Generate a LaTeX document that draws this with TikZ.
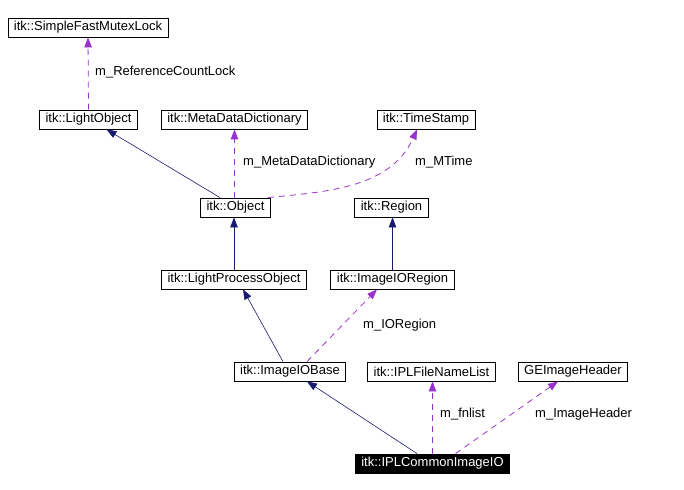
\documentclass[tikz,border=0pt]{standalone}
\usepackage{fontspec}
\setmainfont{Liberation Sans}
\usetikzlibrary{arrows.meta}
\definecolor{inhblue}{HTML}{191970}
\definecolor{usepurple}{HTML}{9A32CD}

\begin{document}
\begin{tikzpicture}[x=1pt, y=-1pt,
        cls/.style={draw=black, line width=0.8pt, fill=white, inner xsep=6pt, inner ysep=0pt,
                    minimum height=19pt, font=\fontsize{13}{15}\selectfont},
        focus/.style={cls, fill=black, text=white},
        lbl/.style={anchor=west, inner sep=0pt, font=\fontsize{13}{15}\selectfont},
        inherit/.style={-{Triangle[length=10pt,width=7.5pt]}, draw=inhblue, line width=0.6pt},
        member/.style={-{Triangle[length=10pt,width=7.5pt]}, draw=usepurple, line width=0.8pt,
                       dash pattern=on 6pt off 5pt}
      ]
        \useasboundingbox (0,0) rectangle (684,489);

        \node[cls]   (mutex)  at (88,27.5)    {itk::SimpleFastMutexLock};
        \node[cls]   (lobj)   at (88.5,119.5) {itk::LightObject};
        \node[cls]   (mdd)    at (234.5,119.5) {itk::MetaDataDictionary};
        \node[cls]   (tstamp) at (426,119.5)  {itk::TimeStamp};
        \node[cls]   (obj)    at (235.5,207.5) {itk::Object};
        \node[cls]   (region) at (391.5,207.5) {itk::Region};
        \node[cls]   (lpo)    at (234,279.5)  {itk::LightProcessObject};
        \node[cls]   (ioreg)  at (392.5,279.5) {itk::ImageIORegion};
        \node[cls]   (iobase) at (290,371.5)  {itk::ImageIOBase};
        \node[cls]   (fnlist) at (431.5,371.5) {itk::IPLFileNameList};
        \node[cls]   (gehdr)  at (573,371.5)  {GEImageHeader};
        \node[focus] (iplio)  at (432.5,463.5) {itk::IPLCommonImageIO};

        \draw[member] (lobj.north) -- (mutex.south);
        \draw[inherit] ([xshift=-15.5pt]obj.north) -- ([xshift=18pt]lobj.south);
        \draw[member] ([xshift=-1pt]obj.north) -- ([xshift=0pt]mdd.south);
        \draw[member] ([xshift=32.5pt]obj.north) .. controls (320,192) and (390,190) .. ([xshift=-9pt]tstamp.south);
        \draw[inherit] (lpo.north) -- (obj.south -| lpo.north);
        \draw[inherit] (ioreg.north) -- (region.south -| ioreg.north);
        \draw[inherit] ([xshift=-7pt]iobase.north) -- ([xshift=9pt]lpo.south);
        \draw[member] ([xshift=17pt]iobase.north) -- ([xshift=-15.5pt]ioreg.south);
        \draw[inherit] ([xshift=-15.5pt]iplio.north) -- ([xshift=17pt]iobase.south);
        \draw[member] (iplio.north) -- (iplio.north |- fnlist.south);
        \draw[member] ([xshift=23pt]iplio.north) -- ([xshift=-15pt]gehdr.south);

        \node[lbl] (l_lock)   at (95,72.5)   {m\_ReferenceCountLock};
        \node[lbl] (l_mdd)    at (243,162.5) {m\_MetaDataDictionary};
        \node[lbl] (l_mtime)  at (415,162.5) {m\_MTime};
        \node[lbl] (l_ioreg)  at (363,325.5) {m\_IORegion};
        \node[lbl] (l_fnlist) at (440,414.5) {m\_fnlist};
        \node[lbl] (l_hdr)    at (535,414.5) {m\_ImageHeader};
      \end{tikzpicture}
\end{document}
